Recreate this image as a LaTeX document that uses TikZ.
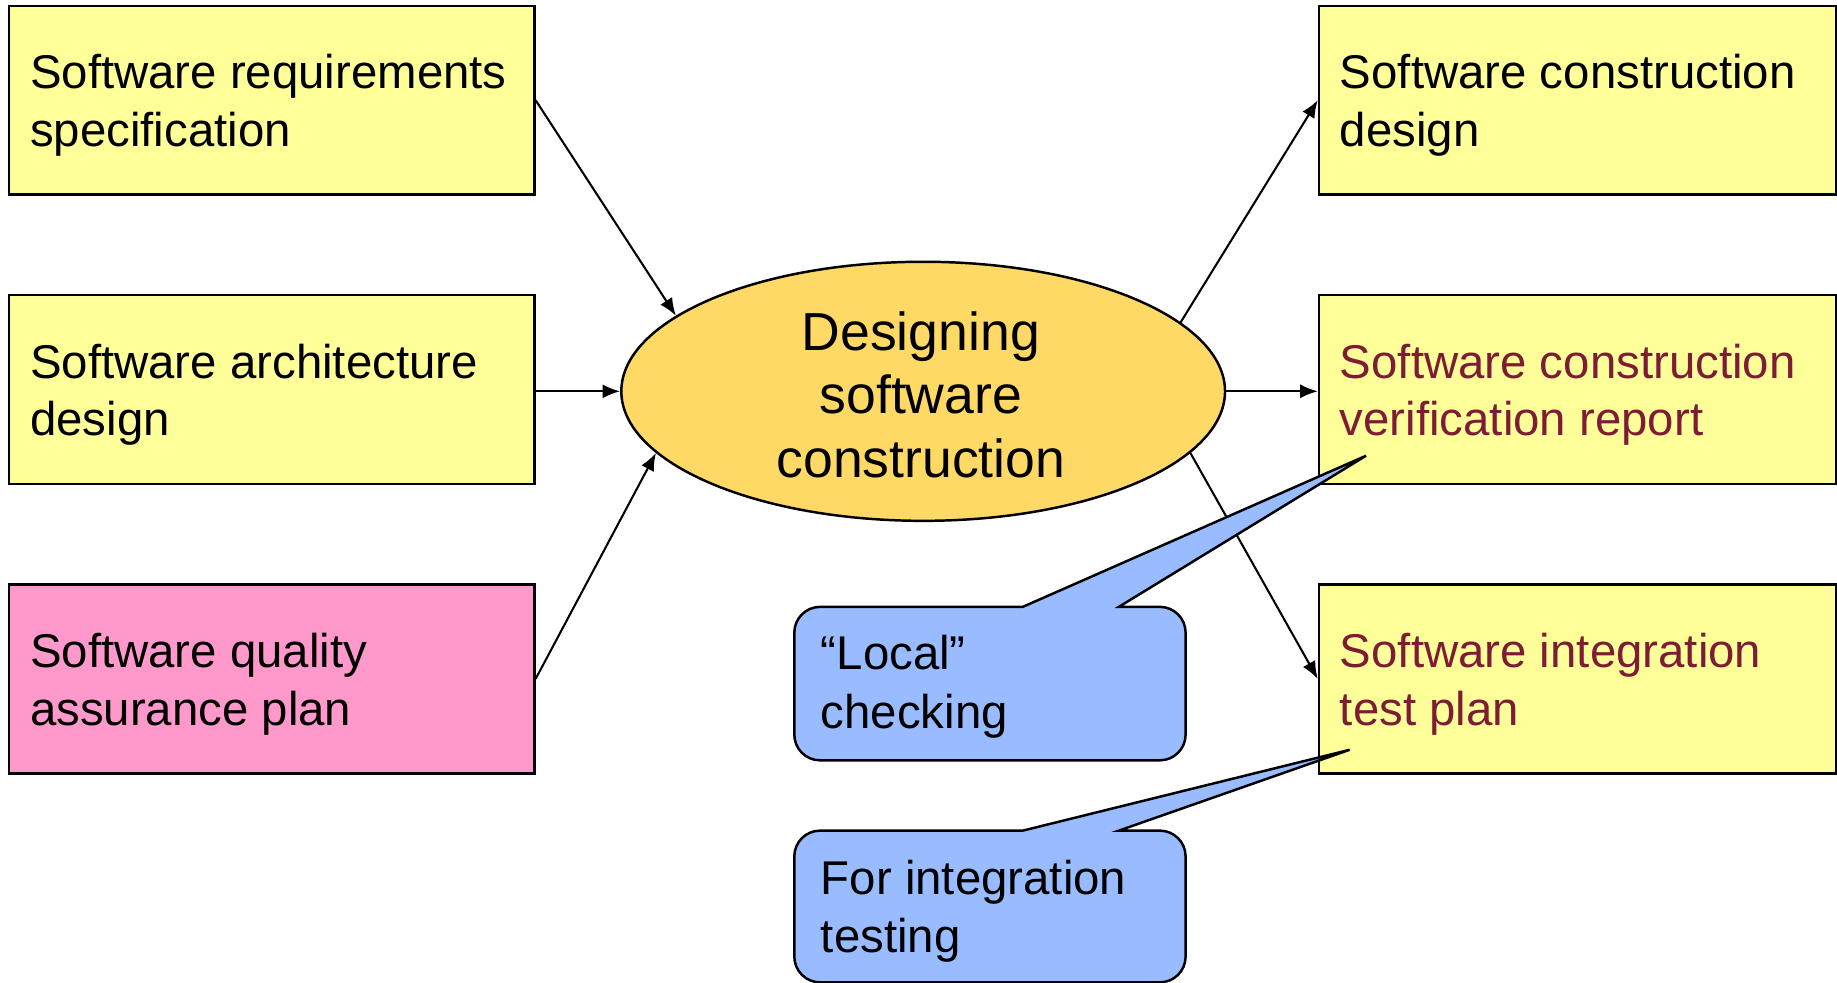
\documentclass[tikz,border=0pt]{standalone}
\usepackage{fontspec}
\setmainfont{Liberation Sans}
\usetikzlibrary{shapes.geometric,arrows.meta}
\definecolor{boxyellow}{RGB}{255,255,153}
\definecolor{boxpink}{RGB}{255,153,204}
\definecolor{ellorange}{RGB}{255,217,102}
\definecolor{callblue}{RGB}{153,187,255}
\definecolor{darkred}{RGB}{125,28,52}
\tikzset{
  docbox/.style={draw=black, line width=0.6pt, rectangle, inner sep=0pt,
    minimum height=1.61cm},
  leftbox/.style={docbox, minimum width=4.48cm},
  rightbox/.style={docbox, minimum width=4.41cm},
  boxtext/.style={anchor=west, align=left, inner sep=0pt, font=\fontsize{11.5}{13.94}\selectfont},
  centralell/.style={ellipse, draw=black, line width=0.6pt, fill=ellorange, minimum width=5.15cm,
    minimum height=2.21cm, inner sep=0pt, align=center, font=\fontsize{13}{15.36}\selectfont},
  flow/.style={line width=0.5pt, -{Latex[length=1.5mm,width=1.2mm]}},
  callout/.style={draw=black, line width=0.6pt, fill=callblue},
  calltext/.style={anchor=west, align=left, inner sep=0pt, font=\fontsize{11.5}{14.2}\selectfont}
}
\begin{document}
\begin{tikzpicture}[x=0.01cm,y=-0.01cm]
\useasboundingbox (0,0) rectangle (1568,839);
% left boxes
\node[leftbox, fill=boxyellow] (b1) at (232,85.5) {};
\node[leftbox, fill=boxyellow] (b2) at (232,332.5) {};
\node[leftbox, fill=boxpink] (b3) at (232,579.5) {};
\node[boxtext] (t1) at (25,90) {Software requirements\\specification};
\node[boxtext] (t2) at (25,337) {Software architecture\\design};
\node[boxtext] (t3) at (25,584) {Software quality\\assurance plan};
% right boxes
\node[rightbox, fill=boxyellow] (b4) at (1346.5,85.5) {};
\node[rightbox, fill=boxyellow] (b5) at (1346.5,332.5) {};
\node[rightbox, fill=boxyellow] (b6) at (1346.5,579.5) {};
\node[boxtext] (t4) at (1143,90) {Software construction\\design};
\node[boxtext, text=darkred] (t5) at (1143,337) {Software construction\\verification report};
\node[boxtext, text=darkred] (t6) at (1143,584) {Software integration\\test plan};
% central ellipse
\node[centralell] (ell) at (788,334) {};
\node[align=center, inner sep=0pt, font=\fontsize{13}{15.36}\selectfont] (et) at (786,337) {Designing\\software\\construction};
% connectors
\draw[flow] (b1.east) -- (ell.163);
\draw[flow] (b2.east |- ell.west) -- (ell.west);
\draw[flow] (b3.east) -- (ell.193.5);
\draw[flow] (ell.15) -- (b4.west);
\draw[flow] (ell.east) -- (b5.west |- ell.east);
\draw[flow] (ell.347) -- (b6.west);
% callout 1
\coordinate (tip1) at (1166,389);
\path[callout] (678,600) [rounded corners=0.22cm] -- (678,518) [sharp corners] -- (873,518) -- (tip1) -- (955,518)
  [rounded corners=0.22cm] -- (1012,518) -- (1012,649) -- (678,649) -- cycle;
\node[calltext] (c1) at (700,586) {“Local”\\checking};
% callout 2
\coordinate (tip2) at (1152,640);
\path[callout] (678,790) [rounded corners=0.22cm] -- (678,709) [sharp corners] -- (873,709) -- (tip2) -- (955,709)
  [rounded corners=0.22cm] -- (1012,709) -- (1012,838.5) -- (678,838.5) -- cycle;
\node[calltext] (c2) at (700,778) {For integration\\testing};
\end{tikzpicture}
\end{document}
